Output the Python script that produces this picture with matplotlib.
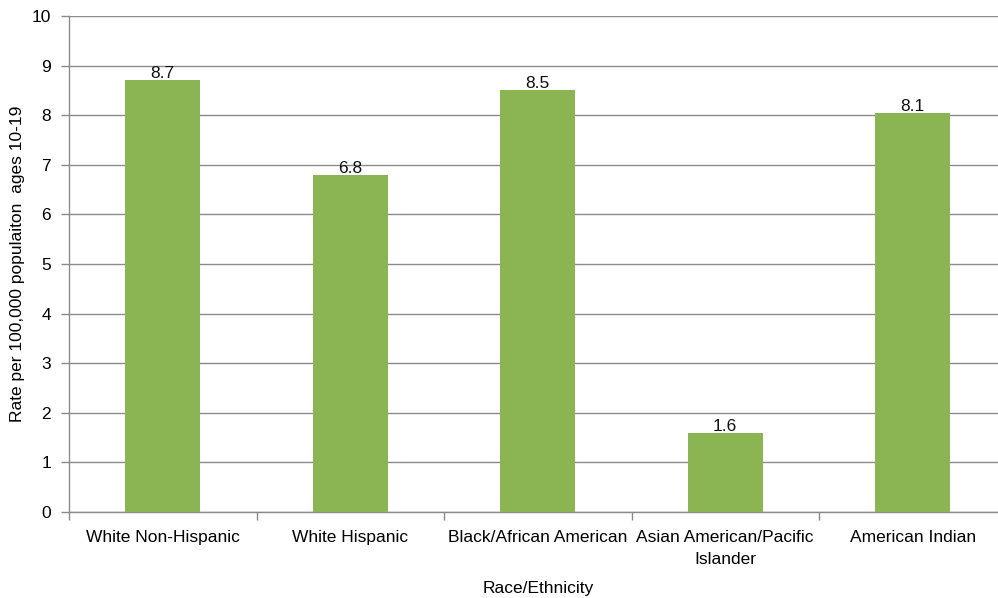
import matplotlib
matplotlib.use("Agg")
import matplotlib.pyplot as plt
import numpy as np

categories = ["White Non-Hispanic", "White Hispanic", "Black/African American",
              "Asian American/Pacific\nIslander", "American Indian"]
values = [8.7, 6.8, 8.5, 1.6, 8.05]
yticks = [0, 1, 2, 3, 4, 5, 6, 7, 8, 9, 10]

plt.rcParams['font.family'] = ['Liberation Sans', 'DejaVu Sans']
FS = 12.5

fig = plt.figure(figsize=(9.98, 5.98), dpi=100)
ax = fig.add_axes([69/998, 1-512/598, 937.5/998, 496/598])

x = np.arange(len(categories))
bars = ax.bar(x, values, width=0.4, color='#8BB553', zorder=3)
for xi, v in zip(x, values):
    ax.text(xi, v - 0.02, f"{v:.1f}", ha='center', va='bottom', fontsize=FS, color='#111111')

ax.set_xlim(-0.5, len(categories) - 0.5)
ax.set_ylim(0, 10)
ax.set_yticks(yticks)
ax.set_yticklabels([str(t) for t in yticks], fontsize=FS)
ax.yaxis.grid(True, color='#8a8a8a', linewidth=1.0, zorder=0)
ax.set_axisbelow(True)

ax.set_xticks(x)
ax.set_xticklabels(categories, fontsize=FS, linespacing=1.6)
ax.tick_params(axis='x', length=0, pad=13)
ax.set_xticks(np.arange(-0.5, len(categories) + 0.5, 1), minor=True)
ax.tick_params(axis='x', which='minor', length=6, color='#8a8a8a', width=1)
ax.tick_params(axis='y', length=6, color='#8a8a8a', width=1, pad=7)

for s in ['top', 'right']:
    ax.spines[s].set_visible(False)
for s in ['left', 'bottom']:
    ax.spines[s].set_color('#8a8a8a')
    ax.spines[s].set_linewidth(1.0)

ax.set_ylabel("Rate per 100,000 populaiton  ages 10-19", fontsize=FS)
ax.yaxis.set_label_coords(-51/937.5, 0.5)
ax.set_xlabel("Race/Ethnicity", fontsize=FS)
ax.xaxis.set_label_coords(0.5, -(589-512)/496)
ax.xaxis.label.set_va('center')
ax.yaxis.label.set_va('center')

fig.savefig("out.png", dpi=100)
